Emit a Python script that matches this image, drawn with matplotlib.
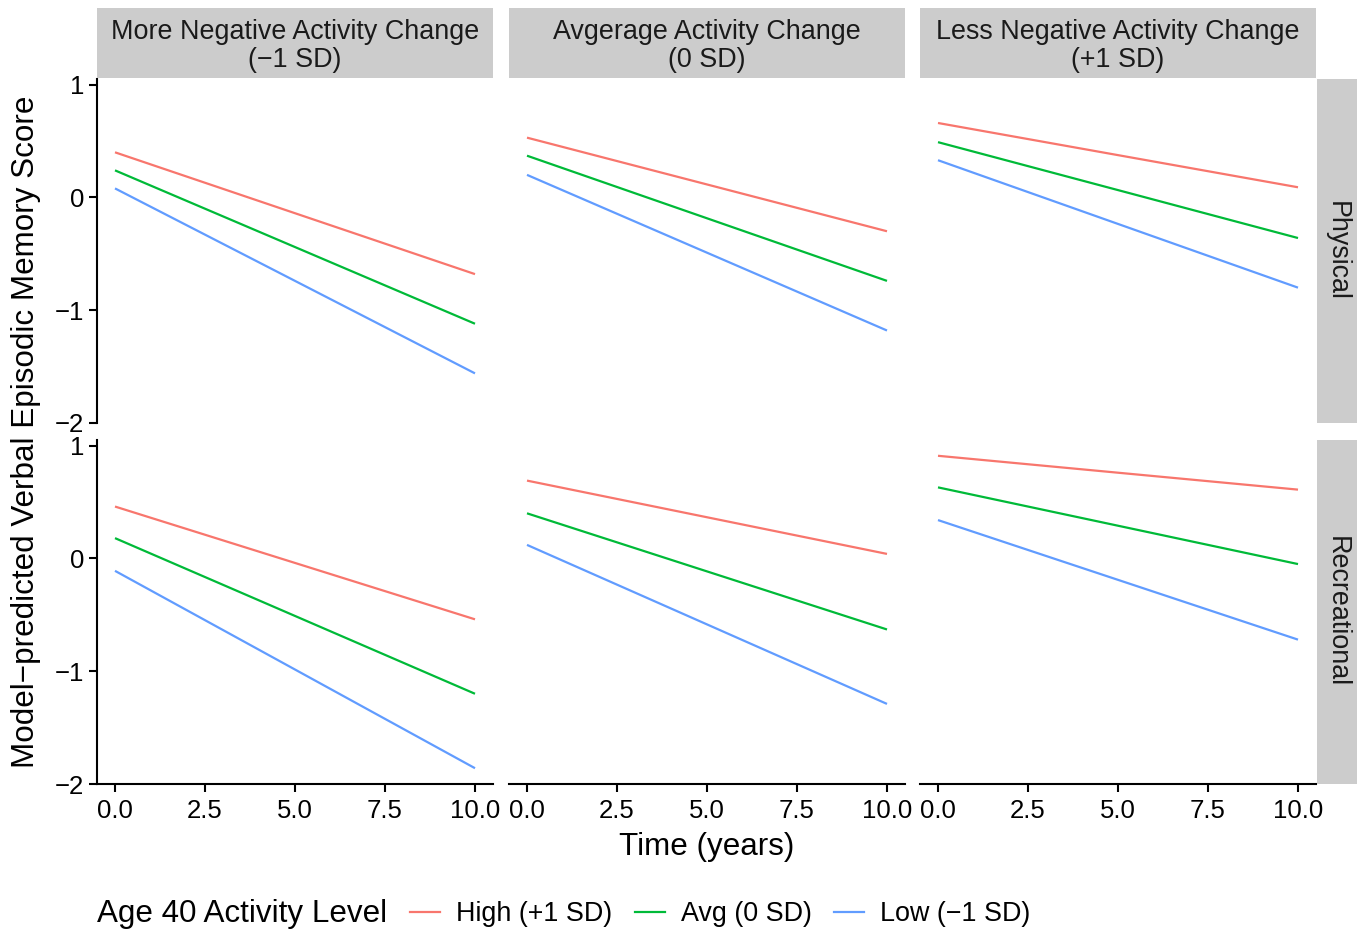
import matplotlib
matplotlib.use("Agg")
import matplotlib.pyplot as plt
from matplotlib.lines import Line2D

plt.rcParams['font.family'] = ['Liberation Sans', 'DejaVu Sans']

# data (value at year 0, value at year 10)
time = [0, 10]
change_labels = ['More Negative Activity Change\n(\u22121 SD)',
                 'Avgerage Activity Change\n(0 SD)',
                 'Less Negative Activity Change\n(+1 SD)']
activity_types = ['Physical', 'Recreational']
level_labels = ['High (+1 SD)', 'Avg (0 SD)', 'Low (\u22121 SD)']
level_colors = ['#F8766D', '#00BA38', '#619CFF']

physical_high = [[0.40, -0.68], [0.53, -0.30], [0.66, 0.09]]
physical_avg = [[0.24, -1.12], [0.37, -0.74], [0.49, -0.36]]
physical_low = [[0.08, -1.56], [0.20, -1.18], [0.33, -0.80]]
recreational_high = [[0.46, -0.54], [0.69, 0.04], [0.91, 0.61]]
recreational_avg = [[0.18, -1.20], [0.40, -0.63], [0.63, -0.05]]
recreational_low = [[-0.11, -1.86], [0.12, -1.29], [0.34, -0.72]]

x_ticks = [0, 2.5, 5, 7.5, 10]
x_ticklabels = ['0.0', '2.5', '5.0', '7.5', '10.0']
y_ticks = [-2, -1, 0, 1]
y_ticklabels = ['\u22122', '\u22121', '0', '1']

rows = [[physical_high, physical_avg, physical_low],
        [recreational_high, recreational_avg, recreational_low]]

W, H = 1363, 931
fig = plt.figure(figsize=(W / 100, H / 100), dpi=100)


def px_axes(x0, y0, x1, y1):
    return fig.add_axes([x0 / W, 1 - y1 / H, (x1 - x0) / W, (y1 - y0) / H])


col_px = [(97, 493), (509, 905), (920, 1316)]
row_px = [(79, 423), (440, 784)]
strip_grey = '#CCCCCC'

for r, (y0, y1) in enumerate(row_px):
    for c, (x0, x1) in enumerate(col_px):
        ax = px_axes(x0, y0, x1, y1)
        for series, col in zip(rows[r], level_colors):
            ax.plot(time, series[c], color=col, lw=1.6, solid_capstyle='butt')
        ax.set_xlim(-0.5, 10.5)
        ax.set_ylim(-2, 1.05)
        for s in ['top', 'right']:
            ax.spines[s].set_visible(False)
        ax.spines['left'].set_visible(c == 0)
        ax.spines['bottom'].set_visible(r == 1)
        for s in ['left', 'bottom']:
            ax.spines[s].set_linewidth(1.5)
        ax.set_xticks(x_ticks)
        ax.set_yticks(y_ticks)
        if r == 1:
            ax.set_xticklabels(x_ticklabels)
            ax.tick_params(axis='x', length=5.5, width=1.5, pad=5.5, labelsize=18.5, colors='black')
        else:
            ax.tick_params(axis='x', bottom=False, labelbottom=False)
        if c == 0:
            ax.set_yticklabels(y_ticklabels)
            ax.tick_params(axis='y', length=5.5, width=1.5, pad=3.5, labelsize=18.5, colors='black')
        else:
            ax.tick_params(axis='y', left=False, labelleft=False)

# top strips
for c, (x0, x1) in enumerate(col_px):
    sa = px_axes(x0, 8, x1, 78)
    sa.set_facecolor(strip_grey)
    sa.set_xticks([])
    sa.set_yticks([])
    for s in sa.spines.values():
        s.set_visible(False)
    sa.text(0.5, 0.46, change_labels[c], ha='center', va='center', fontsize=19.4,
            color='#1A1A1A', linespacing=1.12, transform=sa.transAxes)

# right strips
for r, (y0, y1) in enumerate(row_px):
    sa = px_axes(1317, y0, 1357, y1)
    sa.set_facecolor(strip_grey)
    sa.set_xticks([])
    sa.set_yticks([])
    for s in sa.spines.values():
        s.set_visible(False)
    sa.text(0.5, 0.5, activity_types[r], ha='center', va='center', fontsize=19.4,
            color='#1A1A1A', rotation=270, transform=sa.transAxes)

fig.text(706.5 / W, 1 - 847 / H, 'Time (years)', ha='center', va='center', fontsize=22.6)
fig.text(26 / W, 1 - 432 / H, 'Model\u2212predicted Verbal Episodic Memory Score',
         ha='center', va='center', rotation=90, fontsize=22.6)

# legend
fig.text(97 / W, 1 - 914 / H, 'Age 40 Activity Level', ha='left', va='center', fontsize=22.6)
handles = [Line2D([0], [0], color=col, lw=1.6) for col in level_colors]
fig.legend(handles, level_labels, loc='center left', bbox_to_anchor=(410 / W, 1 - 914 / H),
           ncol=3, frameon=False, fontsize=19.4, handlelength=1.12, handletextpad=0.6,
           columnspacing=0.82, borderpad=0, borderaxespad=0)

fig.savefig('out.png', dpi=100)
